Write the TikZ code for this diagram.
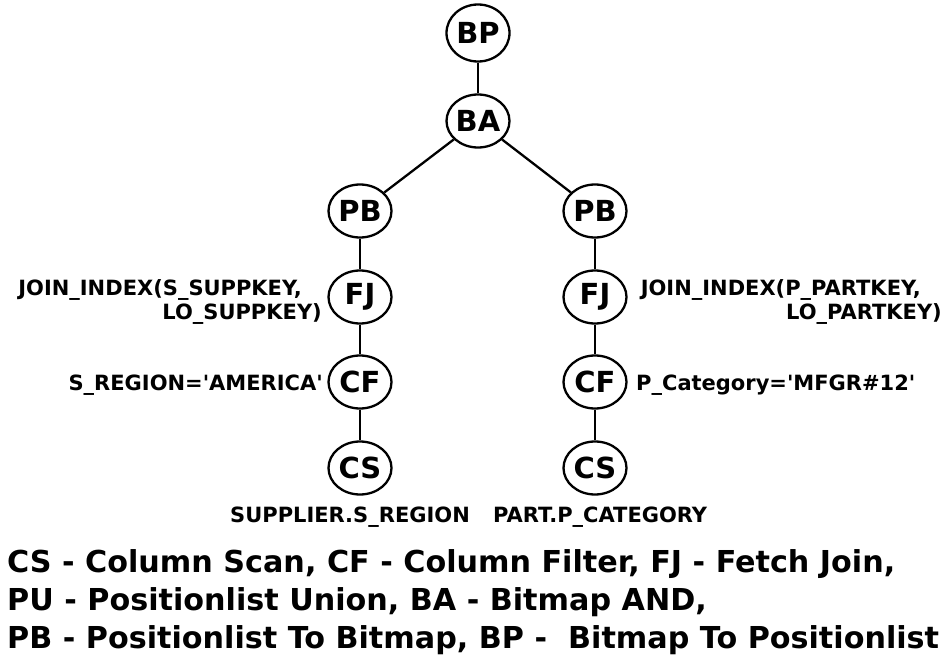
\documentclass[tikz,border=0pt]{standalone}
\usepackage{fontspec}
\setmainfont{DejaVu Sans}
\usetikzlibrary{shapes.geometric}
\begin{document}
\begin{tikzpicture}[x=1pt,y=-1pt,
  op/.style={ellipse, draw, line width=2.3pt, minimum width=63pt, minimum height=53pt,
             inner sep=0pt, font=\fontsize{29}{29}\selectfont\bfseries},
  lbl/.style={font=\fontsize{21}{24}\selectfont\bfseries, inner sep=0pt},
  legend/.style={font=\fontsize{30.2}{38}\selectfont\bfseries, inner sep=0pt, anchor=base west},
  link/.style={line width=2.3pt}]
\useasboundingbox (0,0) rectangle (943,655);

% operator tree
\node[op, minimum height=57pt] (bp) at (478,33) {BP};
\node[op] (ba) at (478,121) {BA};
\node[op] (pbl) at (360,211) {PB};
\node[op] (pbr) at (595,211) {PB};
\node[op] (fjl) at (360,297) {FJ};
\node[op] (fjr) at (595,297) {FJ};
\node[op] (cfl) at (360,382) {CF};
\node[op] (cfr) at (595,382) {CF};
\node[op] (csl) at (360,468) {CS};
\node[op] (csr) at (595,468) {CS};

\draw[link] (bp) -- (ba);
\draw[link] (ba) -- (pbl);
\draw[link] (ba) -- (pbr);
\draw[link] (pbl) -- (fjl);
\draw[link] (fjl) -- (cfl);
\draw[link] (cfl) -- (csl);
\draw[link] (pbr) -- (fjr);
\draw[link] (fjr) -- (cfr);
\draw[link] (cfr) -- (csr);

% operator arguments
\node[lbl, anchor=east] (jl) at (322,303)
  {\begin{tabular}{@{}r@{}}JOIN\_INDEX(S\_SUPPKEY,\kern20pt\\LO\_SUPPKEY)\end{tabular}};
\node[lbl, anchor=east] (jr) at (942,303)
  {\begin{tabular}{@{}r@{}}JOIN\_INDEX(P\_PARTKEY,\kern21pt\\LO\_PARTKEY)\end{tabular}};
\node[lbl, anchor=base east] (fl) at (323,390) {S\_REGION=\textquotesingle AMERICA\textquotesingle};
\node[lbl, anchor=base west] (fr) at (636,390) {P\_Category=\textquotesingle MFGR\#12\textquotesingle};
\node[lbl, anchor=base west] (sl) at (230,522) {SUPPLIER.S\_REGION};
\node[lbl, anchor=base west] (sr) at (493,522) {PART.P\_CATEGORY};

% legend
\node[legend] (k1) at (7,572) {CS - Column Scan, CF - Column Filter, FJ - Fetch Join,};
\node[legend] (k2) at (7,610) {PU - Positionlist Union, BA - Bitmap AND,};
\node[legend] (k3) at (7,648) {PB - Positionlist To Bitmap, BP -\ \ Bitmap To Positionlist};
\end{tikzpicture}
\end{document}
